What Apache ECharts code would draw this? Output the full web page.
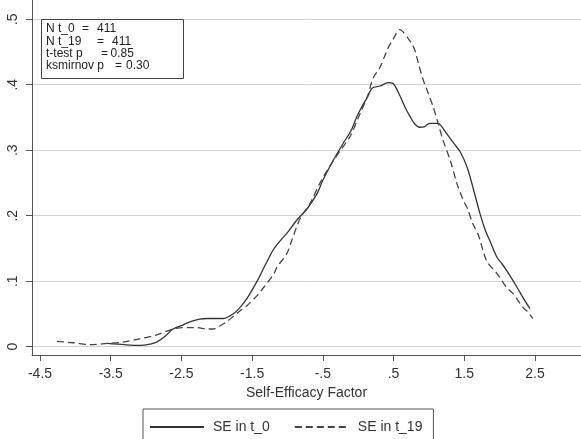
<!DOCTYPE html>
<html>
<head>
<meta charset="utf-8">
<script src="https://cdn.jsdelivr.net/npm/echarts@6/dist/echarts.min.js"></script>
<style>html,body{margin:0;padding:0;background:#fff}#c{width:581px;height:439px}</style>
</head>
<body>
<div id="c"></div>
<script>
// ---- data ----
const t0X = [-3.55,-3.3,-3.09,-2.94,-2.85,-2.73,-2.62,-2.48,-2.38,-2.24,-2.14,-2.0,-1.91,-1.77,-1.67,-1.57,-1.43,-1.29,-1.2,-1.1,-1.01,-0.87,-0.72,-0.58,-0.5,-0.35,-0.21,-0.1,-0.02,0.05,0.13,0.2,0.31,0.42,0.49,0.59,0.66,0.73,0.8,0.87,0.94,1.01,1.13,1.22,1.3,1.37,1.44,1.54,1.63,1.72,1.8,1.86,1.96,2.03,2.1,2.25,2.33,2.43];
const t0Y = [0.005,0.003,0.002,0.004,0.007,0.016,0.027,0.033,0.038,0.042,0.043,0.043,0.043,0.050,0.060,0.074,0.100,0.130,0.148,0.162,0.173,0.193,0.211,0.234,0.254,0.285,0.311,0.330,0.351,0.366,0.381,0.395,0.398,0.403,0.402,0.383,0.366,0.352,0.340,0.335,0.336,0.341,0.341,0.330,0.318,0.308,0.298,0.274,0.240,0.204,0.177,0.162,0.137,0.127,0.116,0.090,0.075,0.058];
const t19X = [-4.26,-4.03,-3.79,-3.55,-3.33,-3.09,-2.85,-2.62,-2.48,-2.38,-2.28,-2.14,-2.05,-1.95,-1.86,-1.77,-1.67,-1.57,-1.43,-1.34,-1.2,-1.15,-1.01,-0.96,-0.82,-0.68,-0.54,-0.4,-0.25,-0.11,0.03,0.13,0.21,0.31,0.41,0.49,0.59,0.63,0.69,0.76,0.8,0.85,0.92,0.99,1.06,1.13,1.2,1.3,1.4,1.48,1.54,1.62,1.7,1.82,1.96,2.1,2.19,2.25,2.33,2.39,2.47];
const t19Y = [0.008,0.006,0.003,0.005,0.007,0.012,0.018,0.027,0.029,0.029,0.029,0.027,0.027,0.032,0.038,0.046,0.055,0.063,0.078,0.090,0.110,0.121,0.142,0.156,0.196,0.219,0.250,0.276,0.300,0.322,0.357,0.382,0.410,0.427,0.453,0.469,0.484,0.481,0.473,0.462,0.453,0.433,0.407,0.387,0.366,0.341,0.315,0.285,0.248,0.225,0.212,0.188,0.170,0.130,0.112,0.090,0.081,0.072,0.060,0.054,0.043];
const xTicks = [-4.5,-3.5,-2.5,-1.5,-0.5,0.5,1.5,2.5];
const yTicks = [0,0.1,0.2,0.3,0.4,0.5];
const seriesNames = ['SE in t_0','SE in t_19'];
const statLabels = ['N t_0','N t_19','t-test p','ksmirnov p'];
const statValues = ['411','411','0.85','0.30'];

const fmt = v => { let s = String(Math.round(v*10)/10); return s.replace(/^0\./,'.').replace(/^-0\./,'-.'); };
const font = '"Liberation Sans", Arial, sans-serif';

const chart = echarts.init(document.getElementById('c'));
const eqX = [82, 97, 101, 115];
const valX = [97, 112, 110.5, 126];
const lineY = [29, 42, 54, 66];
const graphics = [{type:'rect', shape:{x:41.5,y:19.5,width:142,height:59}, style:{fill:'#fff',stroke:'#444',lineWidth:1}, z:10}];
statLabels.forEach((l,i)=>{
  graphics.push({type:'text', x:46, y:lineY[i], style:{text:l, font:'12px '+font, fill:'#222', verticalAlign:'middle'}, z:11});
  graphics.push({type:'text', x:eqX[i], y:lineY[i], style:{text:'=', font:'12px '+font, fill:'#222', verticalAlign:'middle'}, z:11});
  graphics.push({type:'text', x:valX[i], y:lineY[i], style:{text:statValues[i], font:'12px '+font, fill:'#222', verticalAlign:'middle'}, z:11});
});

chart.setOption({
  animation:false,
  backgroundColor:'#fff',
  grid:[
    {left:32, right:0, top:0, bottom:84, containLabel:false},
    {left:32, right:0, top:19.2, bottom:92.3, containLabel:false}
  ],
  xAxis:[
    {type:'value', gridIndex:0, min:-4.613, max:3.1505,
    name:'Self-Efficacy Factor', nameLocation:'middle', nameGap:30,
    nameTextStyle:{fontSize:14, color:'#333', fontFamily:font},
    axisLine:{show:true, onZero:false, lineStyle:{color:'#555', width:1}},
    axisTick:{show:true, customValues:xTicks, length:6, lineStyle:{color:'#555'}},
    axisLabel:{customValues:xTicks, formatter:fmt, fontSize:14, color:'#333', fontFamily:font, margin:12},
    splitLine:{show:false}},
    {type:'value', gridIndex:1, min:0, max:1, axisLine:{show:false}, axisTick:{show:false}, axisLabel:{show:false}, splitLine:{show:false}}
  ],
  yAxis:[
    {type:'value', gridIndex:0, min:-0.0127, max:0.5293,
    axisLine:{show:true, onZero:false, lineStyle:{color:'#555', width:1}},
    axisTick:{show:true, customValues:yTicks, length:6, lineStyle:{color:'#555'}},
    axisLabel:{customValues:yTicks, formatter:fmt, rotate:90, fontSize:14, color:'#333', fontFamily:font, margin:12},
    splitLine:{show:false}},
    {type:'value', gridIndex:1, min:0, max:0.5, interval:0.1,
    axisLine:{show:false}, axisTick:{show:false}, axisLabel:{show:false},
    splitLine:{show:true, lineStyle:{color:'#d2d2d2', width:1}}}
  ],
  legend:{data:seriesNames, left:143, top:409, orient:'horizontal',
    borderColor:'#555', borderWidth:1, borderRadius:0, padding:[11,11,12,6],
    itemWidth:54, itemHeight:14, itemGap:24, itemStyle:{opacity:0},
    textStyle:{fontSize:14, color:'#333', fontFamily:font, padding:[0,0,0,4]}},
  graphic:graphics,
  series:[
    {name:'gridhelper', type:'line', xAxisIndex:1, yAxisIndex:1, data:[[0,0]], symbol:'none', silent:true, lineStyle:{opacity:0}},
    {name:seriesNames[0], type:'line', xAxisIndex:0, yAxisIndex:0, data:t0X.map((x,i)=>[x,t0Y[i]]), smooth:0.3, symbol:'none', showSymbol:false,
     lineStyle:{color:'#333', width:1.3, type:'solid'}, itemStyle:{color:'#333'}, z:3},
    {name:seriesNames[1], type:'line', xAxisIndex:0, yAxisIndex:0, data:t19X.map((x,i)=>[x,t19Y[i]]), smooth:0.3, symbol:'none', showSymbol:false,
     lineStyle:{color:'#444', width:1.3, type:[7,4]}, itemStyle:{color:'#444'}, z:3}
  ]
});
</script>
</body>
</html>
